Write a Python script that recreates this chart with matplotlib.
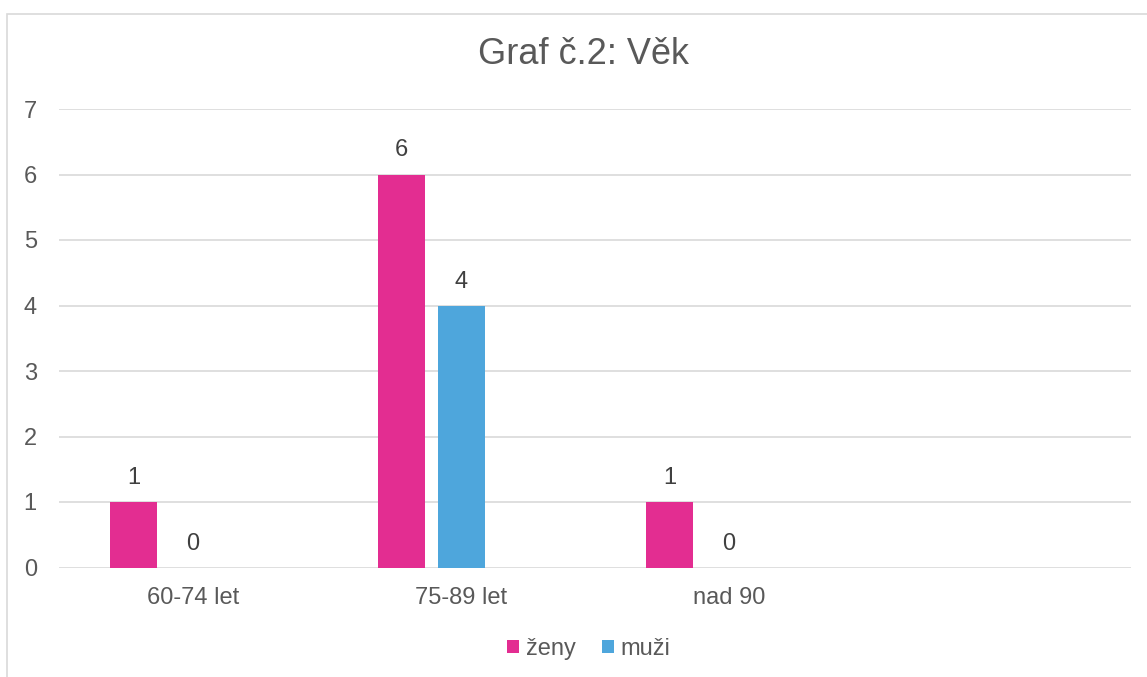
import matplotlib
matplotlib.use("Agg")
import matplotlib.pyplot as plt
from matplotlib.patches import Rectangle
import numpy as np

categories = ["60-74 let", "75-89 let", "nad 90", ""]
zeny = [1, 6, 1, None]
muzi = [0, 4, 0, None]
series_names = ["ženy", "muži"]
colors = ["#E32D91", "#4EA6DC"]
title = "Graf č.2: Věk"

plt.rcParams['font.family'] = ['Liberation Sans', 'DejaVu Sans']

W, H = 1147, 677
fig = plt.figure(figsize=(W / 100, H / 100), dpi=100)
fig.patch.set_facecolor("white")

# outer chart frame (cropped at right/bottom)
fig.patches.append(Rectangle((7.5 / W, -0.1), 1.2, 1 - 14 / H + 0.1,
                             transform=fig.transFigure, fill=False,
                             edgecolor="#D9D9D9", linewidth=1.2))

ax = fig.add_axes([59 / W, 1 - 567.5 / H, (1131 - 59) / W, (567.5 - 109) / H])
x = np.arange(len(categories))
bw = 47 / 268
offsets = [-59.5 / 268, 0.0]

for vals, off, col, name in zip([zeny, muzi], offsets, colors, series_names):
    xs = [xi + off for xi, v in zip(x, vals) if v is not None]
    vs = [v for v in vals if v is not None]
    bars = ax.bar(xs, vs, width=bw, color=col, label=name, zorder=3)
    for xi, v in zip(xs, vs):
        ax.annotate(str(v), (xi, v), xytext=(0, 24), textcoords="offset pixels",
                    ha="center", va="center", fontsize=17, color="#404040")

ax.set_xlim(-0.5, len(categories) - 0.5)
ax.set_ylim(0, 7)
ax.set_yticks(range(0, 8))
ax.set_xticks(x)
ax.set_xticklabels(categories)
ax.grid(axis="y", color="#D9D9D9", linewidth=1.2, zorder=0)
ax.set_axisbelow(True)
for s in ax.spines.values():
    s.set_visible(False)
ax.tick_params(axis="both", length=0, labelsize=17, labelcolor="#595959")
ax.tick_params(axis="y", pad=16)
ax.tick_params(axis="x", pad=14)

fig.text(584 / W, 1 - 55 / H, title, ha="center", va="center",
         fontsize=26, color="#595959")

leg = fig.legend(loc="center", bbox_to_anchor=(589 / W, 1 - 649 / H),
                 ncol=2, frameon=False, fontsize=17, handlelength=0.5,
                 handleheight=0.5, handletextpad=0.3, columnspacing=1.1)
for t in leg.get_texts():
    t.set_color("#595959")

fig.savefig("out.png", dpi=100, facecolor="white")
